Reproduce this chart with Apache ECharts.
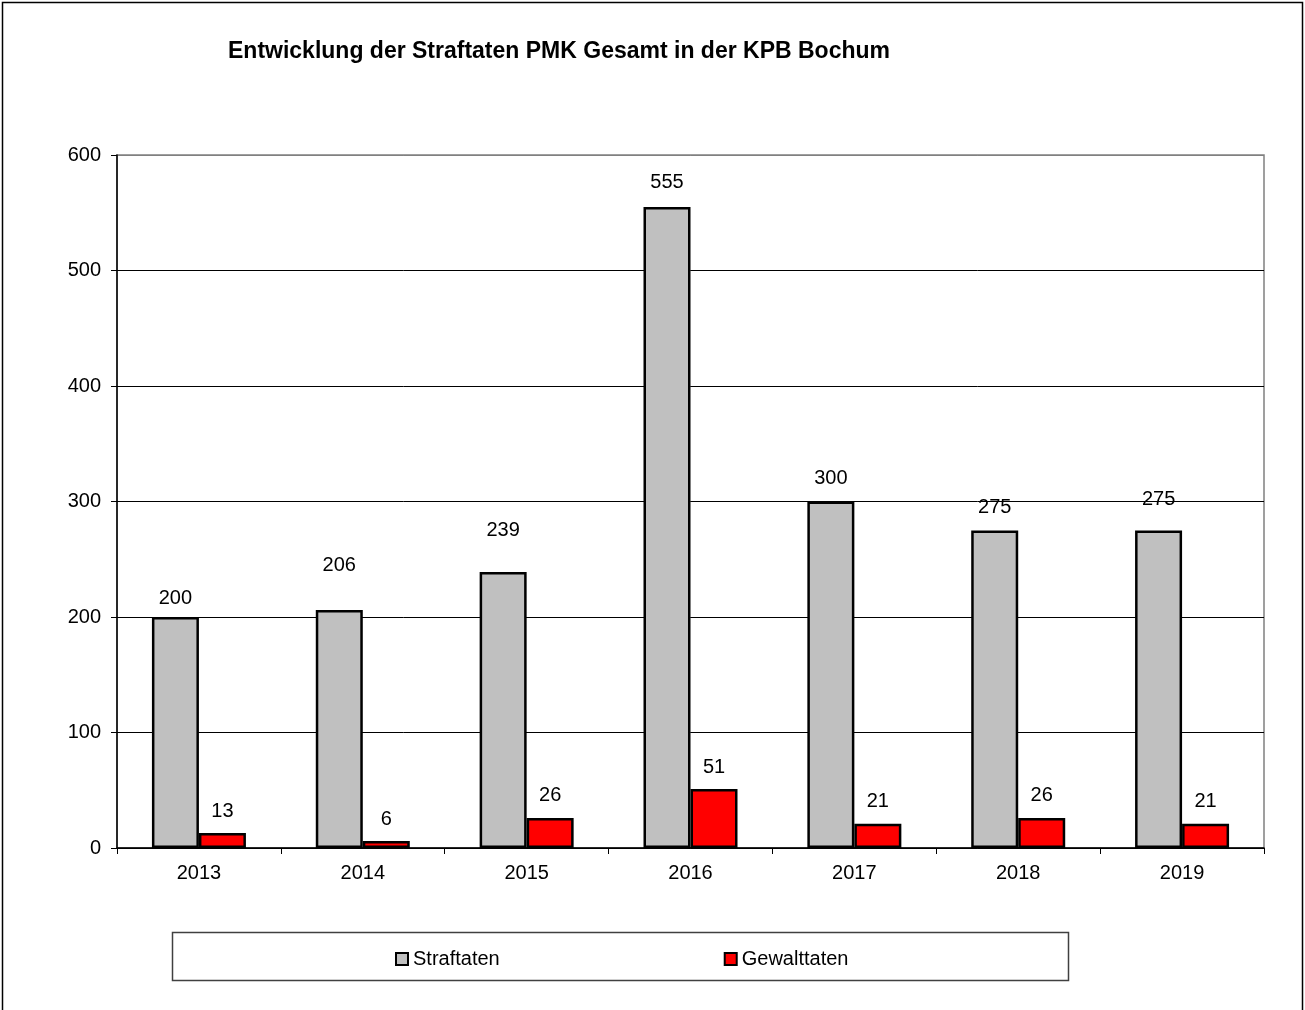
<!DOCTYPE html>
<html>
<head>
<meta charset="utf-8">
<script src="https://cdn.jsdelivr.net/npm/echarts@6/dist/echarts.min.js"></script>
<style>
  html, body { margin: 0; padding: 0; background: #fff; }
  #chart { width: 1305px; height: 1010px; }
</style>
</head>
<body>
<div id="chart"></div>
<script>
const years = ['2013', '2014', '2015', '2016', '2017', '2018', '2019']
const straftaten = [200, 206, 239, 555, 300, 275, 275]
const gewalttaten = [13, 6, 26, 51, 21, 26, 21]
const yTicks = [0, 100, 200, 300, 400, 500, 600]

// label distance above the grey bars (moved by hand in the original)
const strafLabelDist = [9, 35, 31, 14, 13, 13, 21]

const font = 'Liberation Sans, Arial, sans-serif'

const chart = echarts.init(document.getElementById('chart'))

chart.setOption({
  animation: false,
  textStyle: { fontFamily: font },
  title: {
    text: 'Entwicklung der Straftaten PMK Gesamt in der KPB Bochum',
    left: 223,
    top: 35,
    textStyle: { fontSize: 23, fontWeight: 'bold', color: '#000', fontFamily: font }
  },
  graphic: [
    {
      type: 'polyline',
      shape: { points: [[2.5, 1010], [2.5, 2.5], [1302.5, 2.5], [1302.5, 1010]] },
      style: { stroke: '#000', lineWidth: 1.5, fill: null },
      silent: true
    },
    {
      type: 'rect',
      shape: { x: 172.5, y: 932.5, width: 896, height: 48 },
      style: { stroke: '#404040', lineWidth: 1.5, fill: null },
      silent: true
    }
  ],
  legend: {
    left: 390,
    top: 944,
    itemWidth: 12,
    itemHeight: 12,
    itemGap: 224,
    textStyle: { fontSize: 20, color: '#000', fontFamily: font },
    data: [
      { name: 'Straftaten', icon: 'rect', itemStyle: { color: '#c0c0c0', borderColor: '#000', borderWidth: 2 } },
      { name: 'Gewalttaten', icon: 'rect', itemStyle: { color: '#ff0000', borderColor: '#000', borderWidth: 2 } }
    ]
  },
  grid: {
    left: 117,
    right: 41,
    top: 155,
    bottom: 162,
    show: true,
    borderColor: '#808080',
    borderWidth: 1.5
  },
  xAxis: {
    type: 'category',
    data: years,
    axisLine: { lineStyle: { color: '#000', width: 1.5 } },
    axisTick: { show: true, length: 6, lineStyle: { color: '#000' } },
    axisLabel: { fontSize: 20, color: '#000', margin: 15, fontFamily: font }
  },
  yAxis: {
    type: 'value',
    min: yTicks[0],
    max: yTicks[yTicks.length - 1],
    interval: 100,
    axisLine: { show: true, lineStyle: { color: '#000', width: 1.5 } },
    axisTick: { show: true, length: 6, lineStyle: { color: '#000' } },
    axisLabel: { fontSize: 20, color: '#000', margin: 16, fontFamily: font },
    splitLine: {
      show: true,
      lineStyle: { color: ['#000', '#000', '#000', '#000', '#000', '#000', '#808080'], width: 1 }
    }
  },
  series: [
    {
      name: 'Straftaten',
      type: 'bar',
      barWidth: 47,
      barGap: '0%',
      itemStyle: { color: '#c0c0c0', borderColor: '#000', borderWidth: 2.5 },
      data: straftaten.map((v, i) => ({
        value: v,
        label: { distance: strafLabelDist[i] }
      })),
      label: { show: true, position: 'top', fontSize: 20, color: '#000', fontFamily: font }
    },
    {
      name: 'Gewalttaten',
      type: 'bar',
      barWidth: 47,
      itemStyle: { color: '#ff0000', borderColor: '#000', borderWidth: 2.5 },
      data: gewalttaten,
      label: { show: true, position: 'top', distance: 12, fontSize: 20, color: '#000', fontFamily: font }
    }
  ]
})
</script>
</body>
</html>
